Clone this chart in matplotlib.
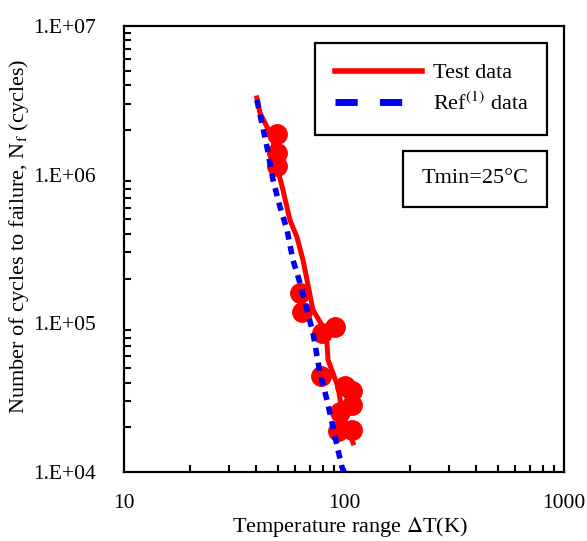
import matplotlib
matplotlib.use('Agg')
import matplotlib.pyplot as plt
from matplotlib.lines import Line2D
from matplotlib.ticker import LogLocator, NullFormatter, FixedLocator, FixedFormatter

plt.rcParams['font.family'] = ['Liberation Serif', 'DejaVu Serif']
plt.rcParams['mathtext.fontset'] = 'stix'

# test data (solid red curve) and measured points (red circles)
test_dt = [40.2, 41.5, 44.7, 47.6, 49.6, 52.8, 56.8, 61.1, 65.1, 67.9, 72.3,
           80.3, 83.7, 84.6, 89.1, 93.9, 97.9, 103.2, 109.9]
test_nf = [3.28e6, 2.60e6, 2.09e6, 1.71e6, 1.13e6, 7.89e5, 4.95e5, 3.81e5, 2.67e5,
           1.96e5, 1.23e5, 9.45e4, 7.38e4, 5.67e4, 4.63e4, 3.73e4, 2.61e4, 2.01e4, 1.57e4]
point_dt = [49.6, 49.6, 49.6, 63.1, 64.4, 79.4, 91.0, 78.6, 101.0, 108.7, 108.7, 95.9, 93.9, 108.7]
point_nf = [1.88e6, 1.40e6, 1.14e6, 1.60e5, 1.19e5, 8.61e4, 9.45e4, 4.43e4, 3.79e4, 3.51e4,
            2.82e4, 2.54e4, 1.89e4, 1.92e4]

# reference data (blue dashed)
ref_dt = [40.2, 44.7, 47.6, 51.2, 55.1, 58.6, 63.1, 67.9, 72.3, 77.8, 83.7, 89.1, 93.9, 97.9, 100.0]
ref_nf = [3.18e6, 1.53e6, 9.2e5, 6.06e5, 4.25e5, 2.67e5, 1.87e5, 1.23e5, 8.61e4, 4.63e4,
          3.05e4, 2.01e4, 1.41e4, 1.08e4, 1.0e4]

x_ticks = [10, 100, 1000]
x_labels = ['10', '100', '1000']
y_ticks = [1e4, 1e5, 1e6, 1e7]
y_labels = ['1.E+04', '1.E+05', '1.E+06', '1.E+07']

fig = plt.figure(figsize=(5.87, 5.41), dpi=100)
ax = fig.add_axes([0.2112, 0.1275, 0.7496, 0.8245])

ax.plot(test_dt, test_nf, color='red', lw=3.6, zorder=3)
ax.plot(point_dt, point_nf, 'o', color='red', ms=14, zorder=3)
ax.plot(ref_dt, ref_nf, color='#0000ee', lw=4, ls=(0, (1.5, 1.2)), zorder=4)

ax.set_xscale('log')
ax.set_yscale('log')
ax.set_xlim(10, 1000)
ax.set_ylim(1e4, 1e7)

ax.xaxis.set_major_locator(FixedLocator(x_ticks))
ax.xaxis.set_major_formatter(FixedFormatter(x_labels))
ax.yaxis.set_major_locator(FixedLocator(y_ticks))
ax.yaxis.set_major_formatter(FixedFormatter(y_labels))
ax.xaxis.set_minor_locator(LogLocator(base=10, subs=range(2, 10)))
ax.yaxis.set_minor_locator(LogLocator(base=10, subs=range(2, 10)))
ax.xaxis.set_minor_formatter(NullFormatter())
ax.yaxis.set_minor_formatter(NullFormatter())
ax.tick_params(which='major', length=0, labelsize=15.5)
ax.tick_params(axis='x', which='major', pad=16)
ax.tick_params(axis='y', which='major', pad=20)
ax.tick_params(which='minor', direction='in', length=5, width=1.5)

for sp in ax.spines.values():
    sp.set_linewidth(1.6)

ax.set_xlabel(r'Temperature range $\Delta$T(K)', fontsize=16)
ax.set_ylabel(r'Number of cycles to failure, N$_\mathrm{f}$ (cycles)', fontsize=16)
ax.xaxis.set_label_coords(0.514, -0.097)
ax.yaxis.set_label_coords(-0.212, 0.529)

handles = [Line2D([], [], color='red', lw=4),
           Line2D([], [], color='#0000ee', lw=5, ls=(0, (3.2, 3.2)))]
leg = ax.legend(handles, ['Test data', r'Ref$^{(1)}$ data'], loc='upper left',
                bbox_to_anchor=(0.434, 0.749, 0.527, 0.213), mode='expand',
                borderaxespad=0, fontsize=16,
                fancybox=False, edgecolor='black', framealpha=1,
                handlelength=3.9, borderpad=0.9, labelspacing=0.4, handletextpad=0.5)
leg.get_frame().set_linewidth(1.6)

ax.text(0.798, 0.657, 'Tmin=25°C', transform=ax.transAxes, fontsize=16,
        ha='center', va='center',
        bbox=dict(boxstyle='square,pad=0.85', fc='white', ec='black', lw=1.6))

fig.savefig('out.png', dpi=100)
